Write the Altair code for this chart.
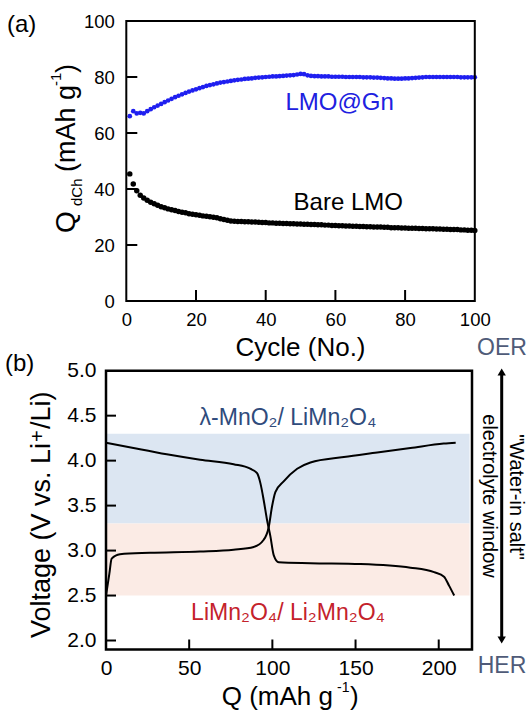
import altair as alt
import pandas as pd

FONT = "Liberation Sans"

# ---------------- (a) discharge capacity vs cycle ----------------
cycles = list(range(1, 101))
q_gn = [
    66.0, 67.8, 67.0, 67.2, 67.0, 67.8, 68.5, 69.2, 69.8, 70.4,
    71.0, 71.6, 72.2, 72.8, 73.3, 73.8, 74.3, 74.8, 75.2, 75.6,
    76.0, 76.4, 76.8, 77.1, 77.4, 77.7, 78.0, 78.2, 78.4, 78.6,
    78.8, 79.0, 79.1, 79.3, 79.4, 79.5, 79.7, 79.8, 79.9, 80.0,
    80.1, 80.2, 80.2, 80.3, 80.4, 80.5, 80.6, 80.7, 80.9, 81.1,
    81.0, 80.6, 80.4, 80.3, 80.3, 80.2, 80.2, 80.2, 80.1, 80.1,
    80.1, 80.1, 80.0, 80.0, 80.0, 80.0, 80.0, 79.9, 79.9, 79.9,
    79.8, 79.8, 79.7, 79.6, 79.5, 79.5, 79.4, 79.4, 79.4, 79.5,
    79.5, 79.6, 79.7, 79.8, 79.9, 80.0, 80.0, 80.0, 80.0, 80.0,
    80.0, 80.0, 80.0, 80.0, 80.0, 79.9, 79.9, 79.9, 79.9, 79.9,
]
q_bare = [
    45.4, 41.8, 39.4, 37.8, 36.8, 36.0, 35.3, 34.7, 34.2, 33.7,
    33.3, 32.9, 32.6, 32.3, 32.0, 31.7, 31.5, 31.2, 31.0, 30.8,
    30.6, 30.4, 30.3, 30.1, 29.9, 29.7, 29.4, 29.1, 28.8, 28.6,
    28.5, 28.4, 28.4, 28.3, 28.3, 28.2, 28.2, 28.1, 28.0, 28.0,
    27.9, 27.9, 27.8, 27.8, 27.7, 27.7, 27.6, 27.6, 27.5, 27.5,
    27.4, 27.4, 27.3, 27.3, 27.2, 27.2, 27.1, 27.1, 27.0, 27.0,
    26.9, 26.9, 26.8, 26.8, 26.7, 26.7, 26.6, 26.6, 26.5, 26.5,
    26.4, 26.4, 26.4, 26.3, 26.3, 26.2, 26.2, 26.2, 26.1, 26.1,
    26.0, 26.0, 26.0, 25.9, 25.9, 25.8, 25.8, 25.8, 25.7, 25.7,
    25.6, 25.6, 25.5, 25.5, 25.5, 25.4, 25.4, 25.3, 25.3, 25.2,
]
a_xticks = [0, 20, 40, 60, 80, 100]
a_yticks = [0, 20, 40, 60, 80, 100]

# ---------------- (b) charge / discharge voltage profiles ----------------
chg_q = [0.0, 2.0, 3.4, 8.4, 26.5, 56.6, 76.7, 88.8, 94.8, 97.8, 99.8,
         101.8, 106.8, 114.9, 122.9, 143.0, 163.0, 183.0, 203.0, 210.2]
chg_v = [2.50, 2.74, 2.91, 2.96, 2.975, 2.99, 3.01, 3.04, 3.12, 3.26, 3.49,
         3.65, 3.77, 3.91, 3.98, 4.04, 4.09, 4.14, 4.19, 4.20]
dis_q = [0.0, 16.5, 36.5, 56.6, 76.7, 86.7, 90.8, 92.8, 94.8, 96.8, 98.8,
         100.8, 103.8, 122.9, 153.0, 183.0, 197.2, 203.2, 206.2, 209.3]
dis_v = [4.20, 4.14, 4.07, 4.01, 3.96, 3.91, 3.86, 3.75, 3.56, 3.34, 3.16,
         2.95, 2.87, 2.86, 2.85, 2.81, 2.76, 2.71, 2.61, 2.50]
band_lo = [3.3, 2.5]
band_hi = [4.3, 3.3]
band_col = ["#dce6f2", "#fbebe5"]
b_xticks = [0, 50, 100, 150, 200]
b_yticks = [2.0, 2.5, 3.0, 3.5, 4.0, 4.5, 5.0]

W, H = 531, 711

# ---------------- panel (a) ----------------
xa = alt.Scale(domain=[0, 100], range=[126.3, 474.8], nice=False, zero=False)
ya = alt.Scale(domain=[0, 100], range=[301, 21], nice=False, zero=False)
ax_xa = alt.Axis(orient="bottom", offset=-(H - 301), values=a_xticks, ticks=False,
                 domain=False, grid=False, labelFont=FONT, labelFontSize=18.5,
                 labelColor="black", labelPadding=9, labelOverlap=False,
                 labelFlush=False, title=None)
ax_ya = alt.Axis(orient="left", offset=-126.3, values=a_yticks, ticks=False,
                 domain=False, grid=False, labelFont=FONT, labelFontSize=18.5,
                 labelColor="black", labelPadding=12, labelOverlap=False,
                 labelFlush=False, title=None)


def XA(*args, **kw):
    return alt.X(*args, type="quantitative", scale=xa, axis=ax_xa, **kw)


def YA(*args, **kw):
    return alt.Y(*args, type="quantitative", scale=ya, axis=ax_ya, **kw)


df_gn = pd.DataFrame({"cycle": cycles, "q": q_gn})
df_bare = pd.DataFrame({"cycle": cycles, "q": q_bare})

pts_bare = alt.Chart(df_bare).mark_circle(color="black", opacity=1, size=30).encode(
    x=XA("cycle"), y=YA("q"))
pts_gn = alt.Chart(df_gn).mark_circle(color="#1f1ff0", opacity=1, size=22).encode(
    x=XA("cycle"), y=YA("q"))

frame_a = alt.Chart(pd.DataFrame({"x0": [0], "x1": [100], "y0": [0], "y1": [100]})).mark_rect(
    filled=False, stroke="black", strokeWidth=2).encode(
    x=XA("x0"), x2="x1", y=YA("y0"), y2="y1")

tick_ax = alt.Chart(pd.DataFrame({"v": [20, 40, 60, 80]})).mark_rule(
    color="black", strokeWidth=2, y2Offset=-11).encode(
    x=XA("v"), y=YA(datum=0), y2=alt.Y2(datum=0))
tick_ay = alt.Chart(pd.DataFrame({"v": [20, 40, 60, 80]})).mark_rule(
    color="black", strokeWidth=2, x2Offset=11).encode(
    y=YA("v"), x=XA(datum=0), x2=alt.X2(datum=0))

lab_gn = alt.Chart(pd.DataFrame({"x": [61.2], "y": [68.2]})).mark_text(
    text="LMO@Gn", font=FONT, fontSize=24, color="#2020e0", baseline="alphabetic").encode(
    x=XA("x"), y=YA("y"))
lab_bare = alt.Chart(pd.DataFrame({"x": [63.7], "y": [32.5]})).mark_text(
    text="Bare LMO", font=FONT, fontSize=24, color="black", baseline="alphabetic").encode(
    x=XA("x"), y=YA("y"))

panel_a = alt.layer(pts_bare, pts_gn, frame_a, tick_ax, tick_ay, lab_gn, lab_bare)

# ---------------- panel (b) ----------------
xb = alt.Scale(domain=[0, 220], range=[106, 472], nice=False, zero=False)
yb = alt.Scale(domain=[1.9, 5.0], range=[649.5, 370.7], nice=False, zero=False)
ax_xb = alt.Axis(orient="bottom", offset=-(H - 649.5), values=b_xticks, ticks=False,
                 domain=False, grid=False, labelFont=FONT, labelFontSize=21,
                 labelColor="black", labelPadding=8, labelOverlap=False,
                 labelFlush=False, title=None)
ax_yb = alt.Axis(orient="left", offset=-106, values=b_yticks, format=".1f", ticks=False,
                 domain=False, grid=False, labelFont=FONT, labelFontSize=21,
                 labelColor="black", labelPadding=10, labelOverlap=False,
                 labelFlush=False, title=None)


def XB(*args, **kw):
    return alt.X(*args, type="quantitative", scale=xb, axis=ax_xb, **kw)


def YB(*args, **kw):
    return alt.Y(*args, type="quantitative", scale=yb, axis=ax_yb, **kw)


bands = alt.Chart(pd.DataFrame({"lo": band_lo, "hi": band_hi, "c": band_col})).mark_rect().encode(
    x=XB(datum=0), x2=alt.X2(datum=218.5), y=YB("lo"), y2="hi",
    color=alt.Color("c:N", scale=None))

df_curves = pd.DataFrame({
    "q": chg_q + dis_q,
    "v": chg_v + dis_v,
    "step": ["charge"] * len(chg_q) + ["discharge"] * len(dis_q),
})
curves = alt.Chart(df_curves).mark_line(color="black", strokeWidth=2, interpolate="monotone").encode(
    x=XB("q"), y=YB("v"), detail="step:N")

frame_b = alt.Chart(pd.DataFrame({"x0": [0], "x1": [220], "y0": [1.9], "y1": [5.0]})).mark_rect(
    filled=False, stroke="black", strokeWidth=2.5).encode(
    x=XB("x0"), x2="x1", y=YB("y0"), y2="y1")

tick_bx = alt.Chart(pd.DataFrame({"v": [50, 100, 150, 200]})).mark_rule(
    color="black", strokeWidth=2, y2Offset=-10).encode(
    x=XB("v"), y=YB(datum=1.9), y2=alt.Y2(datum=1.9))
tick_by = alt.Chart(pd.DataFrame({"v": [2.0, 2.5, 3.0, 3.5, 4.0, 4.5]})).mark_rule(
    color="black", strokeWidth=2, x2Offset=10).encode(
    y=YB("v"), x=XB(datum=0), x2=alt.X2(datum=0))

lab_ox = alt.Chart(pd.DataFrame({"x": [109.4], "y": [4.40]})).mark_text(
    text="λ-MnO₂/ LiMn₂O₄", font=FONT, fontSize=23, color="#2f4b7c", baseline="alphabetic").encode(
    x=XB("x"), y=YB("y"))
lab_red = alt.Chart(pd.DataFrame({"x": [109.4], "y": [2.225]})).mark_text(
    text="LiMn₂O₄/ Li₂Mn₂O₄", font=FONT, fontSize=23, color="#c4222b", baseline="alphabetic").encode(
    x=XB("x"), y=YB("y"))

panel_b = alt.layer(bands, curves, frame_b, tick_bx, tick_by, lab_ox, lab_red)

# ---------------- titles and side annotations (pixel placed) ----------------
one = pd.DataFrame({"k": [0]})


def note(text, x, y, size, angle=0, color="black", align="center", baseline="alphabetic"):
    kw = dict(text=text, font=FONT, fontSize=size, color=color, align=align, baseline=baseline)
    if angle:
        kw["angle"] = angle
    return alt.Chart(one).mark_text(**kw).encode(x=alt.value(x), y=alt.value(y))


notes = [
    note("(a)", 7, 31.5, 24, align="left"),
    note("(b)", 5, 371, 24, align="left"),
    # panel (a) axis titles
    note("Cycle (No.)", 300.5, 356, 26),
    note("Q", 75, 233, 28, angle=270, align="left"),
    note("dCh", 82, 206, 15, angle=270, align="left"),
    note("(mAh g", 75, 172, 27, angle=270, align="left"),
    note("-1", 61, 86, 15, angle=270, align="left"),
    note(")", 75, 73, 27, angle=270, align="left"),
    # panel (b) axis titles
    note("Q (mAh g", 333, 705, 26, align="right"),
    note("-1", 337, 692, 14, align="left"),
    note(")", 350, 705, 26, align="left"),
    note("Voltage (V vs. Li", 50, 443, 27, angle=270, align="right"),
    note("+", 44, 442, 20, angle=270, align="left"),
    note("/Li)", 50, 429, 27, angle=270, align="left"),
    # electrolyte window annotation
    note("OER", 502, 355, 23, color="#4f5b78"),
    note("HER", 502, 672.5, 23, color="#4f5b78"),
    note("electrolyte window", 489, 496, 20, angle=90, baseline="middle"),
    note("\"Water-in salt\"", 516, 497, 20, angle=90, baseline="middle"),
]

arrow_line = alt.Chart(one).mark_rule(color="black", strokeWidth=3).encode(
    x=alt.value(501.7), y=alt.value(374), y2=alt.value(638))
arrow_up = alt.Chart(one).mark_point(shape="triangle-up", filled=True, color="black",
                                     opacity=1, size=70).encode(
    x=alt.value(501.7), y=alt.value(372))
arrow_dn = alt.Chart(one).mark_point(shape="triangle-down", filled=True, color="black",
                                     opacity=1, size=70).encode(
    x=alt.value(501.7), y=alt.value(640))

chart = alt.layer(panel_a, panel_b, arrow_line, arrow_up, arrow_dn, *notes).resolve_scale(
    x="independent", y="independent"
).properties(
    width=W, height=H, padding=0,
    autosize=alt.AutoSizeParams(type="none"),
    background="white",
).configure_view(stroke=None)

chart.save("out.html", embed_options={"renderer": "svg", "actions": False})
